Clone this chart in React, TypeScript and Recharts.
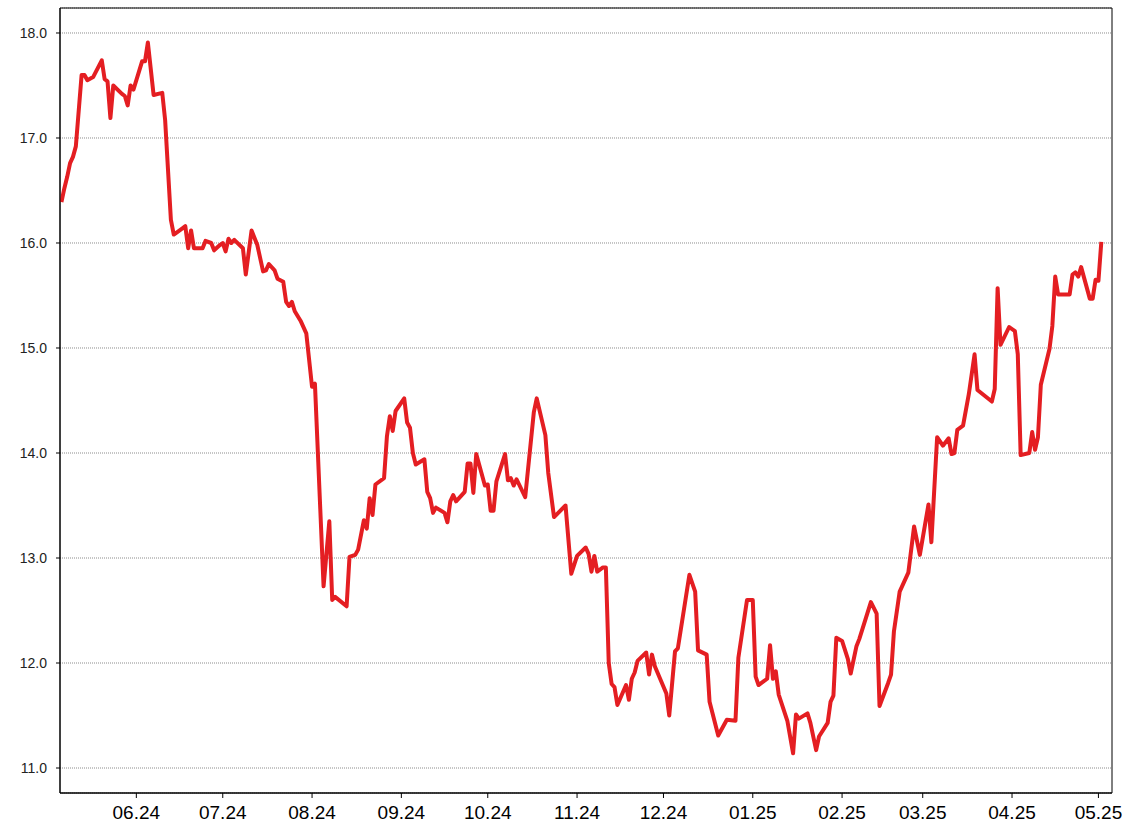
import React from 'react';
import { LineChart, Line, XAxis, YAxis, CartesianGrid, ReferenceArea } from 'recharts';

const dates = [
  '2024-05-06', '2024-05-07', '2024-05-08', '2024-05-09', '2024-05-10', '2024-05-11', '2024-05-13', '2024-05-14',
  '2024-05-15', '2024-05-17', '2024-05-20', '2024-05-21', '2024-05-22', '2024-05-23', '2024-05-24', '2024-05-27',
  '2024-05-28', '2024-05-29', '2024-05-30', '2024-05-31',
  '2024-06-03', '2024-06-04', '2024-06-05', '2024-06-07', '2024-06-10', '2024-06-11', '2024-06-13', '2024-06-14',
  '2024-06-17', '2024-06-18', '2024-06-19', '2024-06-20', '2024-06-21', '2024-06-24', '2024-06-25', '2024-06-27',
  '2024-06-28', '2024-06-30',
  '2024-07-01', '2024-07-02', '2024-07-03', '2024-07-04', '2024-07-05', '2024-07-08', '2024-07-09', '2024-07-11',
  '2024-07-13', '2024-07-15', '2024-07-16', '2024-07-17', '2024-07-19', '2024-07-20', '2024-07-22', '2024-07-23',
  '2024-07-24', '2024-07-25', '2024-07-26', '2024-07-28', '2024-07-30',
  '2024-08-01', '2024-08-02', '2024-08-05', '2024-08-07', '2024-08-08', '2024-08-09', '2024-08-13', '2024-08-14',
  '2024-08-16', '2024-08-17', '2024-08-19', '2024-08-20', '2024-08-21', '2024-08-22', '2024-08-23', '2024-08-26',
  '2024-08-27', '2024-08-28', '2024-08-29', '2024-08-30',
  '2024-09-02', '2024-09-03', '2024-09-04', '2024-09-05', '2024-09-06', '2024-09-09', '2024-09-10', '2024-09-11',
  '2024-09-12', '2024-09-13', '2024-09-16', '2024-09-17', '2024-09-18', '2024-09-19', '2024-09-20', '2024-09-23',
  '2024-09-24', '2024-09-25', '2024-09-26', '2024-09-27', '2024-09-30',
  '2024-10-01', '2024-10-02', '2024-10-03', '2024-10-04', '2024-10-07', '2024-10-08', '2024-10-09', '2024-10-10',
  '2024-10-11', '2024-10-14', '2024-10-17', '2024-10-18', '2024-10-21', '2024-10-22', '2024-10-24', '2024-10-28',
  '2024-10-30',
  '2024-11-01', '2024-11-04', '2024-11-05', '2024-11-06', '2024-11-07', '2024-11-08', '2024-11-10', '2024-11-11',
  '2024-11-12', '2024-11-13', '2024-11-14', '2024-11-15', '2024-11-18', '2024-11-19', '2024-11-20', '2024-11-21',
  '2024-11-22', '2024-11-25', '2024-11-26', '2024-11-27', '2024-11-28',
  '2024-12-02', '2024-12-03', '2024-12-05', '2024-12-06', '2024-12-10', '2024-12-12', '2024-12-13', '2024-12-16',
  '2024-12-17', '2024-12-20', '2024-12-23', '2024-12-26', '2024-12-27', '2024-12-30',
  '2025-01-01', '2025-01-02', '2025-01-03', '2025-01-06', '2025-01-07', '2025-01-08', '2025-01-09', '2025-01-10',
  '2025-01-13', '2025-01-15', '2025-01-16', '2025-01-17', '2025-01-20', '2025-01-21', '2025-01-23', '2025-01-24',
  '2025-01-27', '2025-01-28', '2025-01-29', '2025-01-30',
  '2025-02-01', '2025-02-03', '2025-02-04', '2025-02-06', '2025-02-07', '2025-02-11', '2025-02-13', '2025-02-14',
  '2025-02-17', '2025-02-18', '2025-02-19', '2025-02-21', '2025-02-24', '2025-02-26', '2025-02-28',
  '2025-03-03', '2025-03-04', '2025-03-06', '2025-03-08', '2025-03-10', '2025-03-11', '2025-03-12', '2025-03-13',
  '2025-03-15', '2025-03-17', '2025-03-19', '2025-03-20', '2025-03-25', '2025-03-26', '2025-03-27', '2025-03-28',
  '2025-03-31',
  '2025-04-02', '2025-04-03', '2025-04-04', '2025-04-07', '2025-04-08', '2025-04-09', '2025-04-10', '2025-04-11',
  '2025-04-14', '2025-04-15', '2025-04-16', '2025-04-17', '2025-04-21', '2025-04-22', '2025-04-23', '2025-04-24',
  '2025-04-25', '2025-04-28', '2025-04-29', '2025-04-30',
  '2025-05-01', '2025-05-02',
];

const prices = [
  16.39, 16.52, 16.63, 16.76, 16.82, 16.92, 17.6, 17.6,
  17.55, 17.58, 17.74, 17.56, 17.54, 17.19, 17.5, 17.42,
  17.4, 17.31, 17.5, 17.46,
  17.73, 17.73, 17.91, 17.41, 17.43, 17.17, 16.22, 16.08,
  16.14, 16.16, 15.95, 16.12, 15.95, 15.95, 16.02, 16.0,
  15.93, 15.98,
  16.0, 15.92, 16.04, 16.0, 16.03, 15.95, 15.7, 16.12,
  15.98, 15.73, 15.74, 15.8, 15.74, 15.66, 15.63, 15.44,
  15.4, 15.44, 15.35, 15.26, 15.14,
  14.63, 14.66, 12.73, 13.35, 12.6, 12.63, 12.54, 13.01,
  13.03, 13.08, 13.36, 13.28, 13.57, 13.41, 13.7, 13.76,
  14.16, 14.35, 14.21, 14.4,
  14.52, 14.29, 14.24, 14.0, 13.89, 13.94, 13.63, 13.57,
  13.43, 13.48, 13.43, 13.34, 13.54, 13.6, 13.54, 13.63,
  13.9, 13.9, 13.62, 13.99, 13.69,
  13.7, 13.45, 13.45, 13.73, 13.99, 13.74, 13.76, 13.69,
  13.75, 13.58, 14.39, 14.52, 14.17, 13.81, 13.39, 13.5,
  12.85,
  13.02, 13.1, 13.04, 12.87, 13.02, 12.87, 12.91, 12.91,
  12.0, 11.8, 11.77, 11.6, 11.79, 11.65, 11.85, 11.91,
  12.02, 12.1, 11.89, 12.08, 11.97,
  11.71, 11.5, 12.11, 12.14, 12.84, 12.68, 12.12, 12.08,
  11.63, 11.31, 11.46, 11.45, 12.05, 12.6,
  12.6, 11.87, 11.79, 11.85, 12.17, 11.85, 11.92, 11.7,
  11.45, 11.14, 11.51, 11.47, 11.52, 11.43, 11.17, 11.3,
  11.43, 11.63, 11.69, 12.24,
  12.21, 12.04, 11.9, 12.16, 12.23, 12.58, 12.47, 11.59,
  11.81, 11.89, 12.3, 12.68, 12.86, 13.3, 13.03,
  13.51, 13.15, 14.15, 14.07, 14.14, 13.99, 14.0, 14.22,
  14.26, 14.56, 14.94, 14.6, 14.49, 14.61, 15.57, 15.03,
  15.2,
  15.16, 14.94, 13.98, 14.0, 14.2, 14.03, 14.15, 14.65,
  14.99, 15.21, 15.68, 15.51, 15.51, 15.7, 15.72, 15.68,
  15.77, 15.47, 15.47, 15.65,
  15.64, 16.01,
];

const monthTicks = [
  '2024-06-01', '2024-07-01', '2024-08-01', '2024-09-01', '2024-10-01', '2024-11-01',
  '2024-12-01', '2025-01-01', '2025-02-01', '2025-03-01', '2025-04-01', '2025-05-01',
];

const priceTicks = [11, 12, 13, 14, 15, 16, 17, 18];

const X_MIN = Date.UTC(2024, 4, 5, 12);
const X_MAX = Date.UTC(2025, 4, 5, 17);
const Y_MIN = 10.762;
const Y_MAX = 18.238;

const chartData = dates.map((d, i) => ({ t: Date.parse(d), price: prices[i] }));
const xTicks = monthTicks.map((d) => Date.parse(d));

const formatMonth = (t: number) => {
  const d = new Date(t);
  const mm = String(d.getUTCMonth() + 1).padStart(2, '0');
  const yy = String(d.getUTCFullYear()).slice(2);
  return `${mm}.${yy}`;
};

export default function App() {
  return (
    <div style={{ position: 'absolute', left: 0, top: 0, width: 1128, height: 836, background: '#fff' }}>
      <LineChart
        width={1128}
        height={836}
        data={chartData}
        margin={{ top: 8, right: 16, bottom: 0, left: 0 }}
        style={{ fontFamily: '"Liberation Sans", Arial, sans-serif' }}
      >
        <CartesianGrid vertical={false} stroke="#8c8c8c" strokeDasharray="1 1" />
        <XAxis
          dataKey="t"
          type="number"
          scale="time"
          domain={[X_MIN, X_MAX]}
          ticks={xTicks}
          tickFormatter={formatMonth}
          allowDataOverflow
          height={43}
          tickSize={5}
          tickMargin={8}
          stroke="#000"
          tick={{ fill: '#000', fontSize: 19 }}
        />
        <YAxis
          type="number"
          domain={[Y_MIN, Y_MAX]}
          ticks={priceTicks}
          tickFormatter={(v: number) => v.toFixed(1)}
          allowDataOverflow
          width={60}
          tickSize={4}
          tickMargin={9}
          stroke="#000"
          tick={{ fill: '#222', fontSize: 14 }}
        />
        <ReferenceArea x1={X_MIN} x2={X_MAX} y1={Y_MIN} y2={Y_MAX} fill="none" stroke="#000" strokeOpacity={1} />
        <Line
          type="linear"
          dataKey="price"
          stroke="#e41e22"
          strokeWidth={4}
          strokeLinejoin="round"
          dot={false}
          activeDot={false}
          isAnimationActive={false}
        />
      </LineChart>
    </div>
  );
}
